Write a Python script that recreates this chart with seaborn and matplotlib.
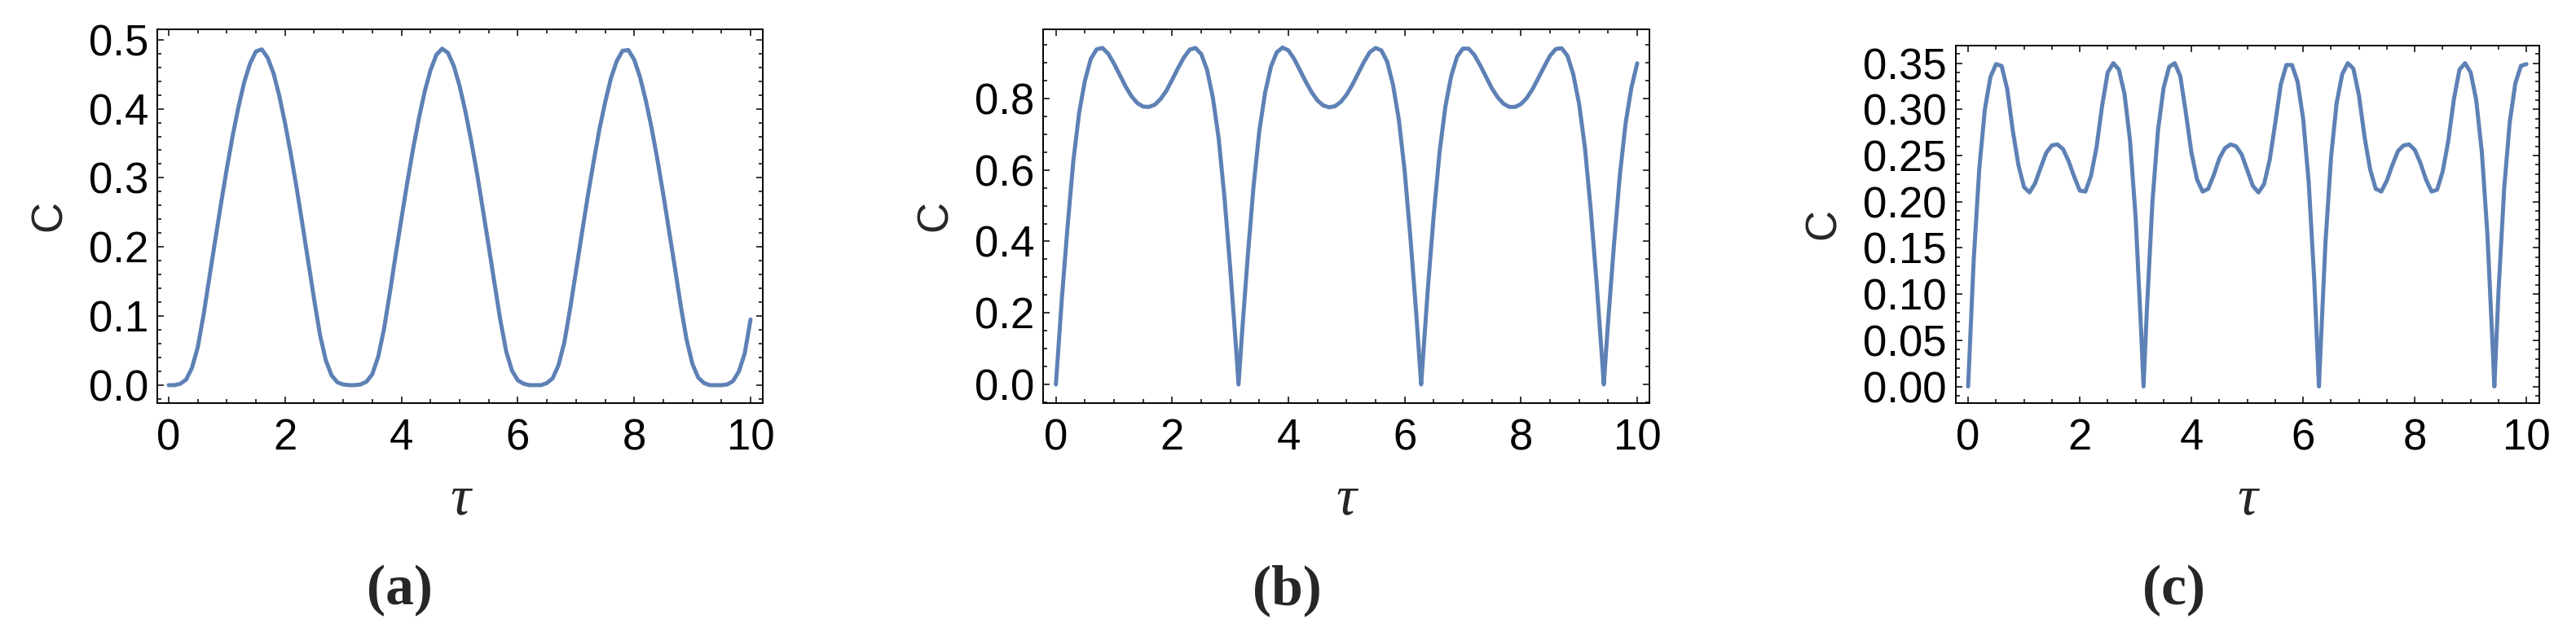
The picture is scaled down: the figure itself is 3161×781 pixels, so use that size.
import matplotlib

matplotlib.use("Agg")
import matplotlib.pyplot as plt
import numpy as np
import seaborn as sns
from matplotlib.ticker import FormatStrFormatter, MultipleLocator

# sampling positions in tau; (b) and (c) also carry the cusp points at pi, 2pi, 3pi
TAU_A = np.round(np.linspace(0, 10, 101), 2)
CUSPS = [3.1416, 6.2832, 9.4248]
TAU_BC = np.sort(np.concatenate([TAU_A, CUSPS]))

# values
C_A = [
    0.000, 0.000, 0.002, 0.008, 0.025, 0.055, 0.102, 0.156, 0.210, 0.263,
    0.314, 0.361, 0.403, 0.439, 0.466, 0.483, 0.486, 0.474, 0.452, 0.419,
    0.379, 0.334, 0.285, 0.232, 0.178, 0.124, 0.073, 0.036, 0.014, 0.004,
    0.001, 0.000, 0.000, 0.001, 0.005, 0.016, 0.041, 0.081, 0.133, 0.188,
    0.241, 0.293, 0.342, 0.386, 0.425, 0.456, 0.478, 0.487, 0.481, 0.462,
    0.433, 0.396, 0.353, 0.306, 0.254, 0.201, 0.147, 0.094, 0.049, 0.021,
    0.007, 0.002, 0.000, 0.000, 0.000, 0.003, 0.010, 0.029, 0.062, 0.111,
    0.165, 0.219, 0.272, 0.322, 0.369, 0.409, 0.444, 0.469, 0.484, 0.485,
    0.471, 0.446, 0.412, 0.372, 0.326, 0.276, 0.223, 0.170, 0.115, 0.066,
    0.031, 0.011, 0.003, 0.000, 0.000, 0.000, 0.001, 0.006, 0.020, 0.046,
    0.095,
]

C_B = [
    0.000, 0.235, 0.440, 0.625, 0.760, 0.850, 0.910, 0.937, 0.941, 0.925,
    0.897, 0.865, 0.833, 0.806, 0.787, 0.777, 0.776, 0.782, 0.798, 0.821,
    0.852, 0.884, 0.914, 0.936, 0.941, 0.924, 0.880, 0.802, 0.688, 0.523,
    0.322, 0.100, 0.000, 0.139, 0.357, 0.554, 0.710, 0.817, 0.889, 0.929, 0.942,
    0.934, 0.910, 0.878, 0.846, 0.817, 0.794, 0.780, 0.775, 0.778, 0.790,
    0.810, 0.838, 0.870, 0.902, 0.929, 0.941, 0.934, 0.902, 0.837, 0.740,
    0.596, 0.407, 0.196, 0.000, 0.040, 0.271, 0.474, 0.650, 0.777, 0.862, 0.916,
    0.939, 0.939, 0.921, 0.892, 0.860, 0.828, 0.803, 0.785, 0.776, 0.776,
    0.784, 0.801, 0.826, 0.857, 0.889, 0.919, 0.938, 0.940, 0.919, 0.867,
    0.785, 0.663, 0.490, 0.288, 0.060, 0.000, 0.177, 0.390, 0.583, 0.730, 0.830, 0.898,
]

C_C = [
    0.000, 0.137, 0.236, 0.300, 0.335, 0.349, 0.347, 0.322, 0.277, 0.240,
    0.216, 0.210, 0.220, 0.237, 0.253, 0.261, 0.262, 0.257, 0.244, 0.227,
    0.212, 0.211, 0.228, 0.259, 0.304, 0.340, 0.350, 0.343, 0.317, 0.266,
    0.183, 0.058, 0.000, 0.081, 0.199, 0.277, 0.323, 0.346, 0.350, 0.336, 0.296,
    0.253, 0.224, 0.211, 0.214, 0.229, 0.247, 0.258, 0.262, 0.260, 0.251,
    0.234, 0.217, 0.210, 0.219, 0.245, 0.285, 0.327, 0.348, 0.348, 0.330,
    0.290, 0.221, 0.114, 0.000, 0.024, 0.156, 0.248, 0.307, 0.338, 0.350, 0.344,
    0.315, 0.270, 0.235, 0.214, 0.211, 0.223, 0.240, 0.255, 0.261, 0.262,
    0.256, 0.242, 0.224, 0.211, 0.213, 0.233, 0.266, 0.311, 0.343, 0.350,
    0.340, 0.310, 0.254, 0.165, 0.035, 0.000, 0.104, 0.214, 0.286, 0.328, 0.347, 0.349,
]

PANEL_LABELS = ["(a)", "(b)", "(c)"]
X_LABEL = "τ"
Y_LABEL = "C"

LINE_COLOR = "#5E81B5"
FIG_W, FIG_H, DPI = 3161, 781, 100


def _px_rect(left, right, top, bottom):
    return [left / FIG_W, 1 - bottom / FIG_H, (right - left) / FIG_W, (bottom - top) / FIG_H]


PANELS = [
    {
        "tau": TAU_A, "c": C_A, "rect": _px_rect(193, 936, 36, 495),
        "xlim": (-0.196, 10.21), "ylim": (-0.026, 0.515),
        "ymajor": 0.1, "yminor": 0.02, "fmt": "%.1f", "ylabel_x": -0.178, "label_x": 490,
    },
    {
        "tau": TAU_BC, "c": C_B, "rect": _px_rect(1280, 2024, 36, 495),
        "xlim": (-0.22, 10.21), "ylim": (-0.052, 0.993),
        "ymajor": 0.2, "yminor": 0.05, "fmt": "%.1f", "ylabel_x": -0.177, "label_x": 1579,
    },
    {
        "tau": TAU_BC, "c": C_C, "rect": _px_rect(2400, 3116, 56, 495),
        "xlim": (-0.22, 10.23), "ylim": (-0.018, 0.369),
        "ymajor": 0.05, "yminor": 0.01, "fmt": "%.2f", "ylabel_x": -0.226, "label_x": 2668,
    },
]


def _style_axes(ax, spec):
    ax.set_xlim(*spec["xlim"])
    ax.set_ylim(*spec["ylim"])
    ax.xaxis.set_major_locator(MultipleLocator(2))
    ax.xaxis.set_minor_locator(MultipleLocator(0.5))
    ax.yaxis.set_major_locator(MultipleLocator(spec["ymajor"]))
    ax.yaxis.set_minor_locator(MultipleLocator(spec["yminor"]))
    ax.yaxis.set_major_formatter(FormatStrFormatter(spec["fmt"]))
    ax.xaxis.set_major_formatter(FormatStrFormatter("%d"))

    ax.tick_params(which="both", direction="in", top=True, right=True,
                   color="black", width=1.1, labelsize=38, labelcolor="black")
    ax.tick_params(which="major", length=6)
    ax.tick_params(which="minor", length=3.5)
    ax.tick_params(axis="x", which="major", pad=13)
    ax.tick_params(axis="y", which="major", pad=8)
    for spine in ax.spines.values():
        spine.set_visible(True)
        spine.set_color("black")
        spine.set_linewidth(1.4)

    height_px = spec["rect"][3] * FIG_H
    ax.set_xlabel(X_LABEL, fontsize=50, fontstyle="italic", family="Liberation Serif", va="center")
    ax.xaxis.set_label_coords(0.5, -120 / height_px)
    ax.set_ylabel(Y_LABEL, fontsize=38, va="center")
    ax.yaxis.set_label_coords(spec["ylabel_x"], 0.5)


def main():
    sns.set_theme(style="ticks")
    plt.rcParams["font.family"] = ["Liberation Sans", "DejaVu Sans"]

    fig = plt.figure(figsize=(FIG_W / DPI, FIG_H / DPI), dpi=DPI)
    fig.patch.set_facecolor("white")

    for spec, label in zip(PANELS, PANEL_LABELS):
        ax = fig.add_axes(spec["rect"])
        sns.lineplot(x=spec["tau"], y=spec["c"], ax=ax, color=LINE_COLOR,
                     linewidth=3.6, sort=False, estimator=None)
        _style_axes(ax, spec)
        fig.text(spec["label_x"] / FIG_W, 1 - 725 / FIG_H, label, ha="center", va="center",
                 fontsize=50, fontweight="bold", family="Liberation Serif")

    fig.savefig("out.png", dpi=DPI, facecolor="white")
    plt.close(fig)


if __name__ == "__main__":
    main()
